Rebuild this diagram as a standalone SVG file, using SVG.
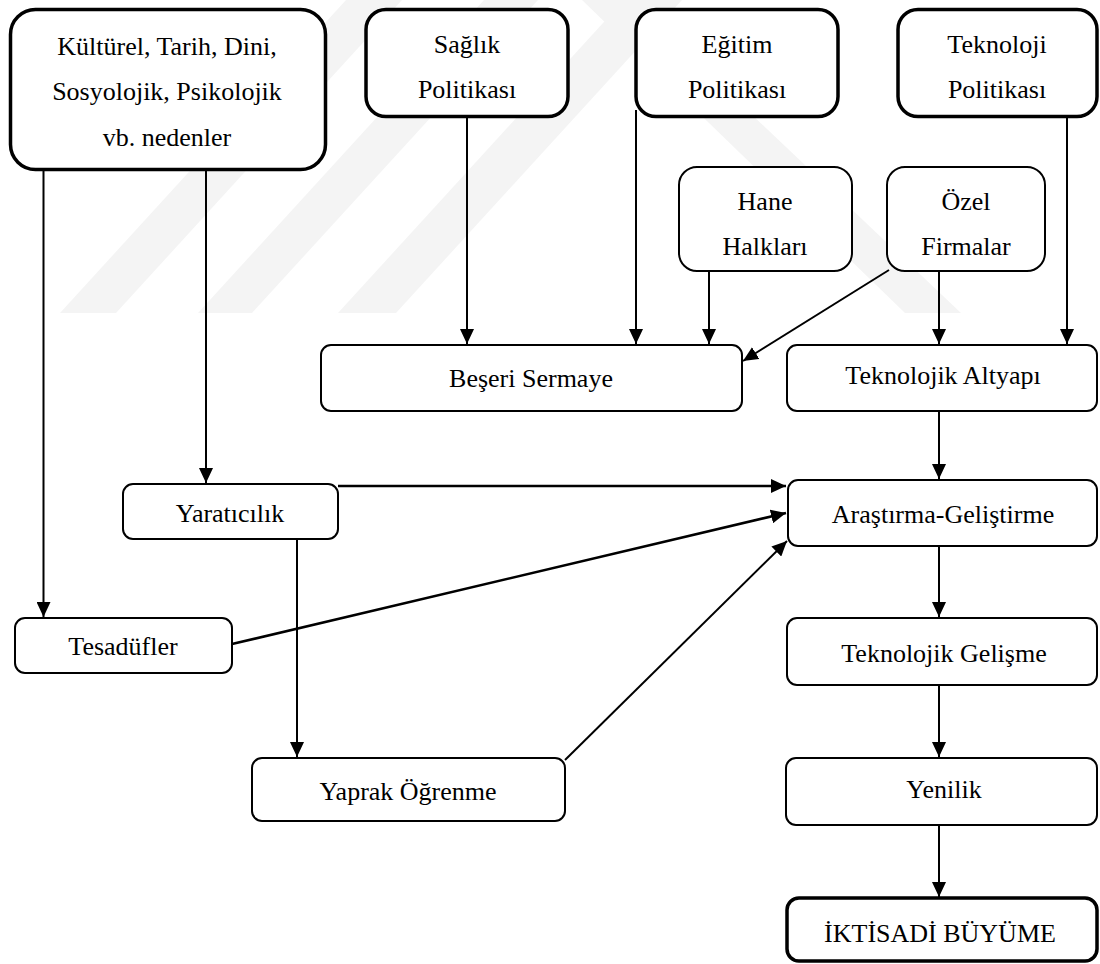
<svg xmlns="http://www.w3.org/2000/svg" width="1100" height="964" viewBox="0 0 1100 964">
<style>
  .box{fill:#fff;stroke:#000;stroke-width:2}
  .thick{stroke-width:3.5}
  .t{font-family:"Liberation Serif","Times New Roman",serif;font-size:26px;fill:#000;text-anchor:middle}
  .c{fill:none;stroke:#000;stroke-width:2}
  .c2{stroke-width:2.6}
  .wm{fill:#f4f4f4}
</style>
<defs>
  <marker id="ah" markerUnits="userSpaceOnUse" markerWidth="16" markerHeight="14" refX="15" refY="7" orient="auto">
    <path d="M0,0 L15,7 L0,14 z" fill="#000"/>
  </marker>
</defs>
<rect width="1100" height="964" fill="#fff"/>
<g id="watermark">
  <polygon class="wm" points="60,313 116,313 402,0 346,0"/>
  <polygon class="wm" points="198,313 252,313 538,0 484,0"/>
  <polygon class="wm" points="338,313 396,313 682,0 624,0"/>
  <polygon class="wm" points="582,0 631,0 961,313 905,313"/>
</g>
<g id="connectors">
  <path class="c" d="M43.5 170 V617" marker-end="url(#ah)"/>
  <path class="c" d="M206 170 V483" marker-end="url(#ah)"/>
  <path class="c" d="M467 117 V344" marker-end="url(#ah)"/>
  <path class="c" d="M636 110 V344" marker-end="url(#ah)"/>
  <path class="c" d="M709 272 V344" marker-end="url(#ah)"/>
  <path class="c" d="M889 270 L743 361" marker-end="url(#ah)"/>
  <path class="c" d="M939 272 V344" marker-end="url(#ah)"/>
  <path class="c" d="M1067 117 V344" marker-end="url(#ah)"/>
  <path class="c" d="M939 411 V479" marker-end="url(#ah)"/>
  <path class="c c2" d="M338 486 H786" marker-end="url(#ah)"/>
  <path class="c c2" d="M232 644 L786 513" marker-end="url(#ah)"/>
  <path class="c" d="M297 539 V757" marker-end="url(#ah)"/>
  <path class="c" d="M565 760 L787 541" marker-end="url(#ah)"/>
  <path class="c" d="M939 546 V617" marker-end="url(#ah)"/>
  <path class="c" d="M939 685 V757" marker-end="url(#ah)"/>
  <path class="c" d="M939 825 V897" marker-end="url(#ah)"/>
</g>
<g id="kulturel">
  <rect class="box thick" x="10.5" y="9.5" width="315" height="160" rx="25"/>
  <text class="t" x="167" y="55">Kültürel, Tarih, Dini,</text>
  <text class="t" x="167" y="100">Sosyolojik, Psikolojik</text>
  <text class="t" x="167" y="146">vb. nedenler</text>
</g>
<g id="saglik">
  <rect class="box thick" x="366" y="9.5" width="202" height="107" rx="20"/>
  <text class="t" x="467" y="53">Sağlık</text>
  <text class="t" x="467" y="98">Politikası</text>
</g>
<g id="egitim">
  <rect class="box thick" x="636" y="9.5" width="202" height="107" rx="20"/>
  <text class="t" x="737" y="53">Eğitim</text>
  <text class="t" x="737" y="98">Politikası</text>
</g>
<g id="teknoloji">
  <rect class="box thick" x="898" y="9.5" width="199" height="107" rx="20"/>
  <text class="t" x="997" y="53">Teknoloji</text>
  <text class="t" x="997" y="98">Politikası</text>
</g>
<g id="hane">
  <rect class="box" x="679" y="167" width="173" height="104" rx="18"/>
  <text class="t" x="765" y="210">Hane</text>
  <text class="t" x="765" y="255">Halkları</text>
</g>
<g id="ozel">
  <rect class="box" x="887" y="167" width="158" height="104" rx="18"/>
  <text class="t" x="966" y="210">Özel</text>
  <text class="t" x="966" y="255">Firmalar</text>
</g>
<g id="beseri">
  <rect class="box" x="321" y="345" width="421" height="66" rx="10"/>
  <text class="t" x="531" y="387">Beşeri Sermaye</text>
</g>
<g id="altyapi">
  <rect class="box" x="787" y="345" width="310" height="66" rx="10"/>
  <text class="t" x="943" y="384">Teknolojik Altyapı</text>
</g>
<g id="yaraticilik">
  <rect class="box" x="123" y="484" width="215" height="55" rx="10"/>
  <text class="t" x="230" y="522">Yaratıcılık</text>
</g>
<g id="arastirma">
  <rect class="box" x="788" y="480" width="309" height="66" rx="10"/>
  <text class="t" x="943" y="523">Araştırma-Geliştirme</text>
</g>
<g id="tesadufler">
  <rect class="box" x="15" y="618" width="217" height="55" rx="10"/>
  <text class="t" x="123" y="655">Tesadüfler</text>
</g>
<g id="yaprak">
  <rect class="box" x="252" y="758" width="313" height="63" rx="10"/>
  <text class="t" x="408" y="800">Yaprak Öğrenme</text>
</g>
<g id="gelisme">
  <rect class="box" x="787" y="618" width="310" height="67" rx="10"/>
  <text class="t" x="944" y="662">Teknolojik Gelişme</text>
</g>
<g id="yenilik">
  <rect class="box" x="786" y="758" width="311" height="67" rx="10"/>
  <text class="t" x="944" y="798">Yenilik</text>
</g>
<g id="iktisadi">
  <rect class="box thick" x="787" y="898" width="310" height="63" rx="12"/>
  <text class="t" x="940" y="942">İKTİSADİ BÜYÜME</text>
</g>
</svg>
